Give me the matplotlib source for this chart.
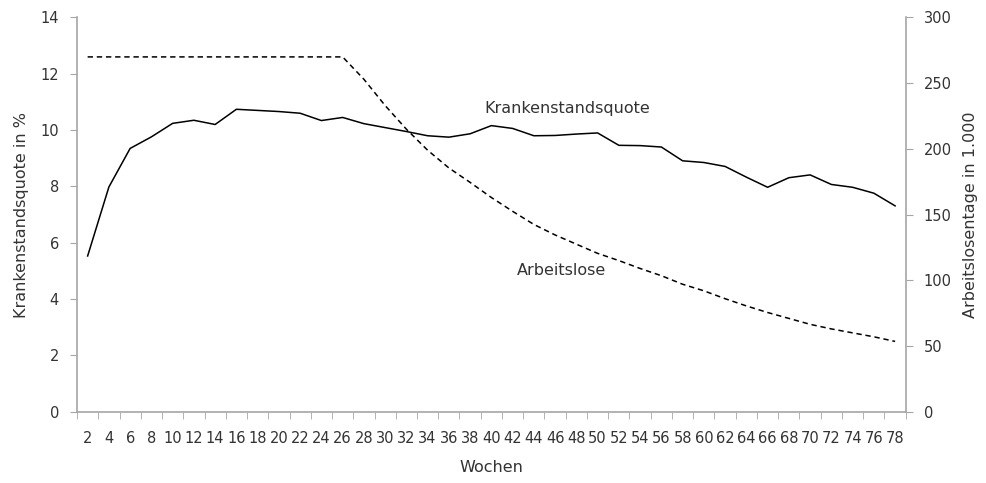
import numpy as np
import matplotlib.pyplot as plt

weeks = list(range(2, 80, 2))
krankenstand = [5.53, 7.98, 9.35, 9.76, 10.24, 10.35, 10.2, 10.74, 10.7, 10.66, 10.6, 10.34,
                10.45, 10.23, 10.09, 9.95, 9.8, 9.75, 9.87, 10.16, 10.06, 9.8, 9.81, 9.86,
                9.9, 9.46, 9.45, 9.4, 8.91, 8.85, 8.71, 8.33, 7.97, 8.31, 8.41, 8.07, 7.97,
                7.76, 7.31]
arbeitslose = [270, 270, 270, 270, 270, 270, 270, 270, 270, 270, 270, 270,
               270, 253, 233, 215, 199, 185.5, 174.5, 163, 152.5, 142.5, 134.5, 127.5,
               120.5, 115, 109, 103.5, 97, 92, 86, 80.5, 75.5, 71, 66.5, 63, 60,
               57, 53.5]

grey = '#a6a6a6'
txt = '#333333'
plt.rcParams['font.family'] = ['DejaVu Sans']
plt.rcParams['font.size'] = 10.5
plt.rcParams['text.color'] = txt
plt.rcParams['xtick.labelcolor'] = txt
plt.rcParams['ytick.labelcolor'] = txt
plt.rcParams['axes.labelcolor'] = txt

fig = plt.figure(figsize=(9.86, 4.83), dpi=100)
ax = fig.add_axes([0.0781, 0.1476, 0.8405, 0.8162])
ax2 = ax.twinx()

x = np.arange(len(weeks))
ax.plot(x, krankenstand, color='black', lw=1.1)
ax2.plot(x, arbeitslose, color='black', lw=1.1, linestyle=(0, (3.5, 2.5)))

ax.set_xlim(-0.5, len(weeks) - 0.5)
ax.set_ylim(0, 14)
ax2.set_ylim(0, 300)
ax.set_yticks(range(0, 15, 2))
ax2.set_yticks(range(0, 301, 50))
ax.set_xticks(x)
ax.set_xticklabels([str(w) for w in weeks])
ax.set_xticks(np.arange(-0.5, len(weeks), 1), minor=True)
ax.tick_params(axis='x', which='major', length=0, pad=14, labelsize=10.5)
ax.tick_params(axis='x', which='minor', length=5, color=grey, direction='out')
ax.tick_params(axis='y', length=5, color=grey, direction='out', pad=8, labelsize=10.5)
ax2.tick_params(axis='y', length=5, color=grey, direction='out', pad=8, labelsize=10.5)

for a in (ax, ax2):
    a.spines['top'].set_visible(False)
    for s in ('left', 'right', 'bottom'):
        a.spines[s].set_color(grey)
        a.spines[s].set_linewidth(1.2)
ax.spines['right'].set_visible(False)
ax2.spines['left'].set_visible(False)
ax2.spines['bottom'].set_visible(False)

ax.set_xlabel('Wochen', labelpad=10, fontsize=11.5)
ax.set_ylabel('Krankenstandsquote in %', labelpad=8, fontsize=11.5)
ax2.set_ylabel('Arbeitslosentage in 1.000', labelpad=8, fontsize=11.5)

ax.text(22.56, 10.78, 'Krankenstandsquote', ha='center', va='center', fontsize=11.5)
ax.text(22.28, 5.03, 'Arbeitslose', ha='center', va='center', fontsize=11.5)

fig.savefig('out.png', dpi=100)
